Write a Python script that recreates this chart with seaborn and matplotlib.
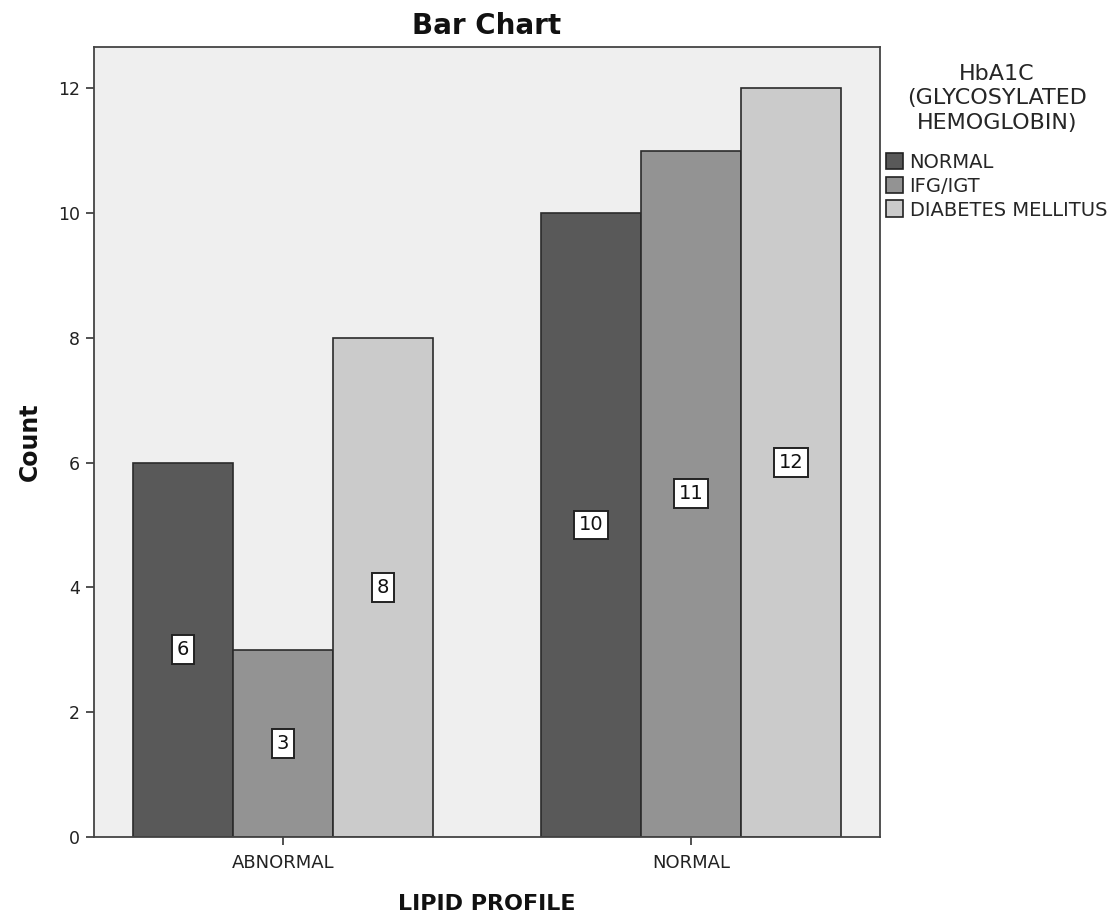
import matplotlib
matplotlib.use("Agg")
import matplotlib.pyplot as plt
import seaborn as sns
import pandas as pd

# Counts of HbA1c groups within each lipid profile category
lipid_profile = ["ABNORMAL", "NORMAL"]
hba1c_groups = ["NORMAL", "IFG/IGT", "DIABETES MELLITUS"]
count_normal = [6, 10]
count_ifg_igt = [3, 11]
count_diabetes = [8, 12]
y_ticks = [0, 2, 4, 6, 8, 10, 12]

bar_colors = ["#595959", "#939393", "#cbcbcb"]

rows = []
for series, vals in zip(hba1c_groups, [count_normal, count_ifg_igt, count_diabetes]):
    for cat, v in zip(lipid_profile, vals):
        rows.append({"LIPID PROFILE": cat, "HbA1C": series, "Count": v})
df = pd.DataFrame(rows)

sns.set_style("white")
plt.rcParams["font.family"] = ["DejaVu Sans"]

fig = plt.figure(figsize=(11.12, 9.21), dpi=100)
ax = fig.add_axes([94 / 1112, 84 / 921, (880 - 94) / 1112, (837 - 47) / 921])
ax.set_facecolor("#efefef")

sns.barplot(
    data=df, x="LIPID PROFILE", y="Count", hue="HbA1C",
    order=lipid_profile, hue_order=hba1c_groups,
    palette=bar_colors, width=0.735, gap=0, errorbar=None,
    edgecolor="#2b2b2b", linewidth=1.2, saturation=1, ax=ax, legend=True,
)

# Value labels centred at half the bar height
for container in ax.containers:
    for bar in container:
        h = bar.get_height()
        ax.text(
            bar.get_x() + bar.get_width() / 2, h / 2, f"{int(h)}",
            ha="center", va="center", fontsize=14, color="#111111",
            bbox=dict(boxstyle="square,pad=0.25", facecolor="white",
                      edgecolor="#222222", linewidth=1.4),
        )

ax.set_xlim(-0.463, 1.463)
ax.set_ylim(0, 12.66)
ax.set_yticks(y_ticks)
ax.tick_params(axis="both", which="both", direction="out", length=6,
               width=1.2, color="#333333", labelsize=12.5, labelcolor="#222222",
               left=True, bottom=True, pad=4)
ax.tick_params(axis="x", labelsize=13, pad=6)
for s in ax.spines.values():
    s.set_color("#444444")
    s.set_linewidth(1.3)

ax.set_title("Bar Chart", fontsize=20, fontweight="bold", pad=9, color="#111111")
ax.set_xlabel("LIPID PROFILE", fontsize=16, fontweight="bold", labelpad=16,
              color="#111111")
ax.set_ylabel("Count", fontsize=17, fontweight="bold", labelpad=12,
              color="#111111")

ax.legend(
    title="HbA1C\n(GLYCOSYLATED\nHEMOGLOBIN)", loc="upper left",
    bbox_to_anchor=(1.008, 0.979), frameon=False, fontsize=14,
    title_fontsize=16, handlelength=0.85, handleheight=0.95,
    handletextpad=0.35, labelspacing=0.25, borderaxespad=0, borderpad=0,
)
leg = ax.get_legend()
leg.get_title().set_multialignment("center")
leg.get_title().set_linespacing(1.3)
leg._legend_box.sep = 14
for h in leg.legend_handles:
    h.set_edgecolor("#222222")
    h.set_linewidth(1.2)

fig.savefig("out.png", dpi=100, facecolor="white")
